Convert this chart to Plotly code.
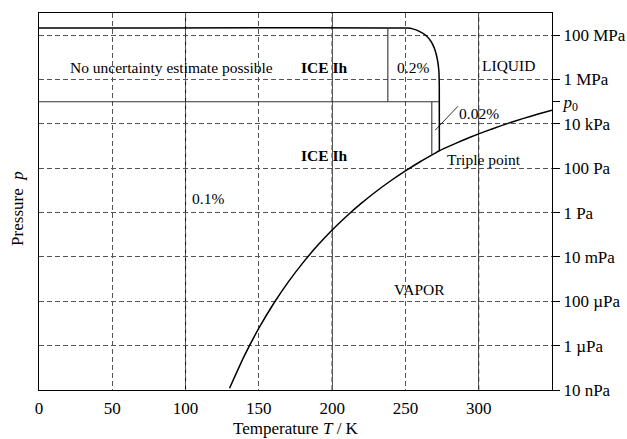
import plotly.graph_objects as go

# ---------------- data ----------------
# Sublimation curve of ice Ih + vaporization curve of liquid water (T in K, p in Pa)
curve_T = [130, 140, 150, 160, 170, 180, 190, 200, 210, 220, 230, 240, 250, 260, 270,
           273.16, 280, 290, 300, 310, 320, 330, 340, 350]
curve_p = [1.2e-8, 3.37e-7, 6.1e-6, 7.74e-5, 7.3e-4, 5.4e-3, 0.0324, 0.163, 0.702, 2.65,
           8.95, 27.3, 76.1, 196, 470, 611.657, 991.8, 1919.9, 3536.8, 6231.2, 10546,
           17213, 27188, 41682]

# Upper boundary (p = 208.566 MPa) followed by the melting curve of ice Ih (as drawn)
melt_T = [0, 251.165, 255, 259.5, 264, 267.5, 270, 271.8, 272.8, 273.1, 273.16]
melt_p = [208.566e6, 208.566e6, 192e6, 148e6, 97e6, 52e6, 23e6, 8e6, 2.5e6, 5e5, 611.657]

# Region boundary lines
box_top_p = 208.566e6
box_bottom_p = 1.0e5
box_split_T = 238
box_bottom_Tmax = 273.12
narrow_T = 268
narrow_p_low = 385

# Leader line for the 0.02 % label
leader_T = [270.3, 285.9]
leader_p = [5.2e3, 6.3e4]

# Axis ticks
x_ticks = [0, 50, 100, 150, 200, 250, 300]
x_major = [100, 200, 300]
y_tickvals = [1e8, 1e6, 1e4, 1e2, 1e0, 1e-2, 1e-4, 1e-6, 1e-8]
y_ticktext = ["100 MPa", "1 MPa", "10 kPa", "100 Pa", "1 Pa", "10 mPa", "100 µPa", "1 µPa", "10 nPa"]
p0 = 101325

# Region labels: (text, T, log10 p, bold)
labels = [
    ("No uncertainty estimate possible", 90.5, 6.56, False),
    ("ICE Ih", 194.7, 6.56, True),
    ("0.2%", 255.3, 6.56, False),
    ("LIQUID", 320.3, 6.63, False),
    ("0.02%", 300.2, 4.49, False),
    ("ICE Ih", 194.7, 2.59, True),
    ("Triple point", 303.3, 2.41, False),
    ("0.1%", 115, 0.65, False),
    ("VAPOR", 259.4, -3.45, False),
]

FONT = "Liberation Serif"
LW = 1.5
GRID = "#555555"
DASH = "5px,3px"

fig = go.Figure()

fig.add_trace(go.Scatter(x=curve_T, y=curve_p, mode="lines",
                         line=dict(color="black", width=LW, shape="spline", smoothing=0.6), hoverinfo="skip"))
fig.add_trace(go.Scatter(x=melt_T, y=melt_p, mode="lines",
                         line=dict(color="black", width=LW, shape="spline", smoothing=0.5), hoverinfo="skip"))
# inner box lines
thin = dict(color="#333333", width=1.1)
fig.add_trace(go.Scatter(x=[0, box_bottom_Tmax], y=[box_bottom_p, box_bottom_p], mode="lines", line=thin, hoverinfo="skip"))
fig.add_trace(go.Scatter(x=[box_split_T, box_split_T], y=[box_top_p, box_bottom_p], mode="lines", line=thin, hoverinfo="skip"))
fig.add_trace(go.Scatter(x=[narrow_T, narrow_T], y=[box_bottom_p, narrow_p_low], mode="lines", line=thin, hoverinfo="skip"))
fig.add_trace(go.Scatter(x=leader_T, y=leader_p, mode="lines", line=dict(color="black", width=0.8), hoverinfo="skip"))
# p0 tick on overlaying axis
fig.add_trace(go.Scatter(x=[None], y=[None], yaxis="y2", showlegend=False))

for T in x_major:
    fig.add_vline(x=T, line=dict(color="black", width=1, dash=DASH), layer="below")

for text, T, lp, bold in labels:
    fig.add_annotation(x=T, y=lp, xref="x", yref="y", showarrow=False,
                       text=f"<b>{text}</b>" if bold else text,
                       font=dict(family=FONT, size=15.5, color="black"))

fig.add_annotation(text="Temperature <i>T</i> / K", xref="paper", yref="paper", x=0.5, y=-0.103,
                   xanchor="center", yanchor="middle",
                   showarrow=False, font=dict(family=FONT, size=17, color="black"))
fig.add_annotation(text="Pressure  <i>p</i>", xref="paper", yref="paper", x=-0.041, y=0.483,
                   xanchor="center", yanchor="middle",
                   textangle=-90, showarrow=False, font=dict(family=FONT, size=17, color="black"))

fig.update_layout(
    width=627, height=439,
    margin=dict(l=39, r=75, t=13, b=49, autoexpand=False),
    paper_bgcolor="white", plot_bgcolor="white",
    showlegend=False,
    font=dict(family=FONT, size=17, color="black"),
    xaxis=dict(range=[0, 350], tickvals=x_ticks, showgrid=True, gridcolor=GRID,
               griddash=DASH, gridwidth=1, zeroline=False, showline=True, linecolor="black",
               linewidth=1, mirror=True, ticks="outside", ticklen=3, tickcolor="rgba(0,0,0,0)",
               tickfont=dict(family=FONT, size=17), automargin=False),
    yaxis=dict(type="log", range=[-8, 9], side="right", tickvals=y_tickvals, ticktext=y_ticktext,
               showgrid=True, gridcolor=GRID, griddash=DASH, gridwidth=1, zeroline=False,
               showline=True, linecolor="black", linewidth=1, mirror=True, ticks="outside",
               ticklen=7, tickcolor="black", tickfont=dict(family=FONT, size=17), automargin=False),
    yaxis2=dict(type="log", range=[-8, 9], side="right", overlaying="y", tickvals=[p0],
                ticktext=["<i>p</i><sub>0</sub>"], showgrid=False, zeroline=False, showline=False,
                ticks="outside", ticklen=7, tickcolor="black", tickfont=dict(family=FONT, size=17),
                automargin=False),
)

fig.write_html("out.html", config={"displayModeBar": False},
               post_script="document.body.style.margin='0';")
